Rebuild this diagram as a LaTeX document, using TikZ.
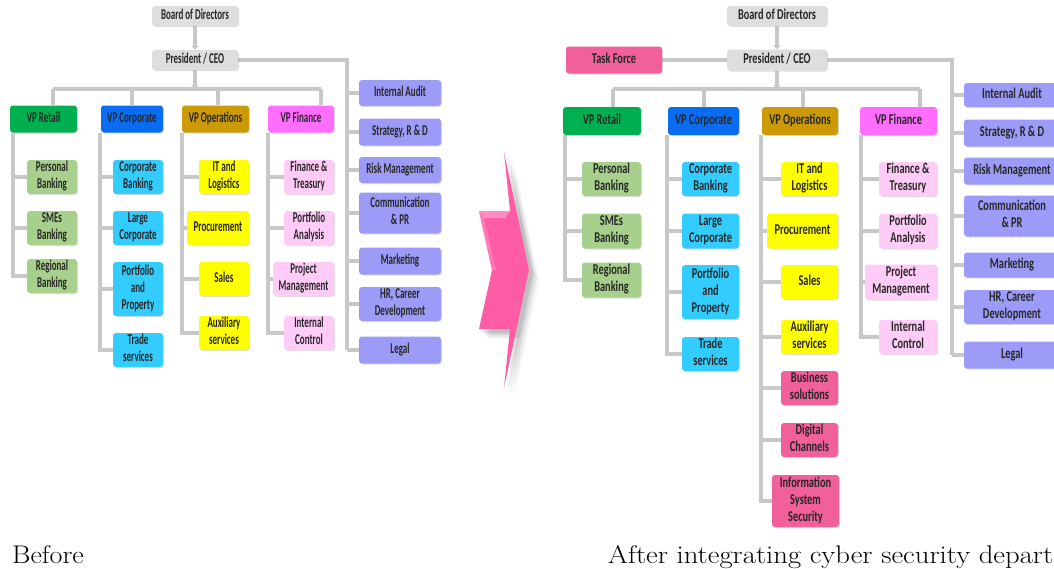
\documentclass[tikz,border=0pt]{standalone}
\usepackage{fontspec}
\usepackage{graphicx}
\newfontfamily\boxfont{Carlito}
\usetikzlibrary{arrows.meta,shadows,calc,backgrounds}
\definecolor{conncol}{HTML}{C8C8C8}
\definecolor{grayfill}{HTML}{DEDEDE}
\definecolor{vpret}{HTML}{00B050}
\definecolor{vpcorp}{HTML}{0A6CF0}
\definecolor{vpops}{HTML}{CC9A06}
\definecolor{vpfin}{HTML}{FF6EFF}
\definecolor{subret}{HTML}{A8D08D}
\definecolor{subcorp}{HTML}{33CCFF}
\definecolor{subops}{HTML}{FFFF00}
\definecolor{subfin}{HTML}{FFCCF7}
\definecolor{staffcol}{HTML}{9C9CF8}
\definecolor{newpink}{HTML}{F2609C}
\definecolor{arrowpink}{HTML}{FF5CA6}
\definecolor{arrowlight}{HTML}{FF8CC6}
\newcommand\btl[1]{\scalebox{0.6}[1]{\begin{tabular}{@{}c@{}}#1\end{tabular}}}
\newcommand\btr[1]{\scalebox{0.69}[1]{\begin{tabular}{@{}c@{}}#1\end{tabular}}}
\newcommand\capx[2]{\scalebox{#1}[1]{#2}}
\begin{document}
\begin{tikzpicture}[x=1pt,y=-1pt,
  bx/.style={rounded corners=3pt, inner sep=0pt, fill=#1, text=black!85,
    font=\boxfont\bfseries\fontsize{15}{17}\selectfont,
    drop shadow={shadow xshift=1pt,shadow yshift=-1pt,opacity=0.25}},
  conn/.style={draw=conncol, line width=3.5pt},
  connarrow/.style={conn, -{Triangle[length=4pt,width=7pt]}},
  wh/.style 2 args={minimum width=#1, minimum height=#2},
  captext/.style={anchor=base west, inner sep=0pt, font=\fontsize{25.5}{30}\selectfont}
]
\useasboundingbox (0,0) rectangle (1054,568);
\clip (0,0) rectangle (1054,568);

% ================= LEFT (Before) =================
\node[bx=grayfill, wh={86}{20}] (lbod) at (195,16) {\btl{Board of Directors}};
\node[bx=grayfill, wh={86}{20}] (lceo) at (195,60) {\btl{President / CEO}};
\node[bx=vpret,  wh={67}{27}] (lvpR) at (43.5,119) {\btl{VP Retail}};
\node[bx=vpcorp, wh={62}{27}] (lvpC) at (132,119) {\btl{VP Corporate}};
\node[bx=vpops,  wh={67}{27}] (lvpO) at (215.5,119) {\btl{VP Operations}};
\node[bx=vpfin,  wh={66}{27}] (lvpF) at (301,119) {\btl{VP Finance}};
% staff
\node[bx=staffcol, wh={82}{26}] (lia)  at (400,93)  {\btl{Internal Audit}};
\node[bx=staffcol, wh={82}{27}] (lstr) at (400,132) {\btl{Strategy, R \& D}};
\node[bx=staffcol, wh={82}{26}] (lrisk) at (400,170) {\btl{Risk Management}};
\node[bx=staffcol, wh={82}{41}] (lcom) at (400,213) {\btl{Communication\\\& PR}};
\node[bx=staffcol, wh={82}{27}] (lmkt) at (400,261) {\btl{Marketing}};
\node[bx=staffcol, wh={82}{34}] (lhr)  at (400,304) {\btl{HR, Career\\Development}};
\node[bx=staffcol, wh={82}{27}] (llegal) at (400,350) {\btl{Legal}};
% retail
\node[bx=subret, wh={50}{34}] (lpb)  at (52,177) {\btl{Personal\\Banking}};
\node[bx=subret, wh={50}{34}] (lsme) at (52,228) {\btl{SMEs\\Banking}};
\node[bx=subret, wh={50}{34}] (lreg) at (52,276) {\btl{Regional\\Banking}};
% corporate
\node[bx=subcorp, wh={50}{34}] (lcb)  at (138,177) {\btl{Corporate\\Banking}};
\node[bx=subcorp, wh={50}{34}] (llc)  at (138,228) {\btl{Large\\Corporate}};
\node[bx=subcorp, wh={50}{54}] (lpp)  at (138,289) {\btl{Portfolio\\and\\Property}};
\node[bx=subcorp, wh={50}{34}] (lts)  at (138,350) {\btl{Trade\\services}};
% operations
\node[bx=subops, wh={50}{34}] (lit)  at (224,177) {\btl{IT and\\Logistics}};
\node[bx=subops, wh={62}{34}] (lpro) at (218,228) {\btl{Procurement}};
\node[bx=subops, wh={50}{34}] (lsal) at (224,279) {\btl{Sales}};
\node[bx=subops, wh={50}{34}] (laux) at (224,333) {\btl{Auxiliary\\services}};
% finance
\node[bx=subfin, wh={50}{34}] (lft)  at (309,177) {\btl{Finance \&\\Treasury}};
\node[bx=subfin, wh={50}{34}] (lpa)  at (309,228) {\btl{Portfolio\\Analysis}};
\node[bx=subfin, wh={61}{34}] (lpm)  at (303.5,279) {\btl{Project\\Management}};
\node[bx=subfin, wh={50}{34}] (lic)  at (309,333) {\btl{Internal\\Control}};

\coordinate (lbus) at (195,89);
\coordinate (lb1) at (53,89);
\coordinate (lb2) at (132,89);
\coordinate (lb3) at (218,89);
\coordinate (lb4) at (321,89);
\coordinate (ls) at (347,60);
\coordinate (lc1) at (13,132.5);
\coordinate (lc2) at (100,132.5);
\coordinate (lc3) at (182,132.5);
\coordinate (lc4) at (268,132.5);

\begin{scope}[on background layer]
\draw[connarrow] (lbod) -- (lceo);
\draw[connarrow] (lceo) -- (lbus);
\draw[conn] (lb1) -- (lb4);
\draw[conn] (lb1) -- (lb1 |- lvpR.north);
\draw[conn] (lb2) -- (lb2 |- lvpC.north);
\draw[conn] (lb3) -- (lb3 |- lvpO.north);
\draw[conn] (lb4) -- (lb4 |- lvpF.north);
\draw[conn] (lceo.east) -- (ls) -- (ls |- llegal.west);
\foreach \n in {lia,lstr,lrisk,lcom,lmkt,lhr,llegal} \draw[conn] (ls |- \n.west) -- (\n.west);
\foreach \n in {lpb,lsme,lreg} \draw[conn] (lc1) |- (\n.west);
\foreach \n in {lcb,llc,lpp,lts} \draw[conn] (lc2) |- (\n.west);
\foreach \n in {lit,lpro,lsal,laux} \draw[conn] (lc3) |- (\n.west);
\foreach \n in {lft,lpa,lpm,lic} \draw[conn] (lc4) |- (\n.west);
\end{scope}

% ================= ARROW =================
\begin{scope}
\foreach \d/\o in {10/0.04,8/0.06,6/0.08,4/0.1}
  \fill[black,opacity=\o] (504+\d,152+\d) -- (529+\d,270+\d) -- (504+\d,388+\d) -- (510+\d,329+\d) -- (479+\d,329+\d) -- (492+\d,270+\d) -- (479+\d,211+\d) -- (510+\d,211+\d) -- cycle;
\fill[arrowpink] (504,152) -- (529,270) -- (504,388) -- (510,329) -- (479,329) -- (492,270) -- (479,211) -- (510,211) -- cycle;
\fill[arrowlight] (479,211) -- (510,211) -- (505,218) -- (484,218) -- cycle;
\fill[arrowlight,opacity=0.6] (479,211) -- (484,218) -- (496,270) -- (492,270) -- cycle;
\end{scope}

% ================= RIGHT (After) =================
\node[bx=grayfill, wh={100}{20}] (rbod) at (777,16) {\btr{Board of Directors}};
\node[bx=grayfill, wh={100}{21}] (rceo) at (777,60) {\btr{President / CEO}};
\node[bx=newpink,  wh={96}{27}] (rtf) at (614,60) {\btr{Task Force}};
\node[bx=vpret,  wh={78}{28}] (rvpR) at (602,121) {\btr{VP Retail}};
\node[bx=vpcorp, wh={71}{28}] (rvpC) at (703.5,121) {\btr{VP Corporate}};
\node[bx=vpops,  wh={76}{28}] (rvpO) at (800,121) {\btr{VP Operations}};
\node[bx=vpfin,  wh={77}{28}] (rvpF) at (898.5,121) {\btr{VP Finance}};
% staff
\node[bx=staffcol, wh={96}{24}] (ria)  at (1012,95)  {\btr{Internal Audit}};
\node[bx=staffcol, wh={96}{27}] (rstr) at (1012,133) {\btr{Strategy, R \& D}};
\node[bx=staffcol, wh={96}{27}] (rrisk) at (1012,171) {\btr{Risk Management}};
\node[bx=staffcol, wh={96}{41}] (rcom) at (1012,216) {\btr{Communication\\\& PR}};
\node[bx=staffcol, wh={96}{25}] (rmkt) at (1012,265) {\btr{Marketing}};
\node[bx=staffcol, wh={96}{34}] (rhr)  at (1012,307) {\btr{HR, Career\\Development}};
\node[bx=staffcol, wh={96}{27}] (rlegal) at (1012,355) {\btr{Legal}};
% retail
\node[bx=subret, wh={59}{34}] (rpb)  at (611.5,179) {\btr{Personal\\Banking}};
\node[bx=subret, wh={59}{35}] (rsme) at (611.5,231) {\btr{SMEs\\Banking}};
\node[bx=subret, wh={59}{35}] (rreg) at (611.5,280) {\btr{Regional\\Banking}};
% corporate
\node[bx=subcorp, wh={57}{34}] (rcb)  at (710.5,179) {\btr{Corporate\\Banking}};
\node[bx=subcorp, wh={57}{35}] (rlc)  at (710.5,231) {\btr{Large\\Corporate}};
\node[bx=subcorp, wh={57}{54}] (rpp)  at (710.5,292) {\btr{Portfolio\\and\\Property}};
\node[bx=subcorp, wh={57}{34}] (rts)  at (710.5,354) {\btr{Trade\\services}};
% operations
\node[bx=subops, wh={57}{34}] (rit)  at (809.5,179) {\btr{IT and\\Logistics}};
\node[bx=subops, wh={71}{35}] (rpro) at (802.5,231) {\btr{Procurement}};
\node[bx=subops, wh={57}{34}] (rsal) at (809.5,282) {\btr{Sales}};
\node[bx=subops, wh={57}{34}] (raux) at (809.5,337) {\btr{Auxiliary\\services}};
\node[bx=newpink, wh={57}{34}] (rbs) at (809.5,388) {\btr{Business\\solutions}};
\node[bx=newpink, wh={57}{34}] (rdc) at (809.5,440) {\btr{Digital\\Channels}};
\node[bx=newpink, wh={67}{52}] (riss) at (805.5,501) {\btr{Information\\System\\Security}};
% finance
\node[bx=subfin, wh={58}{34}] (rft)  at (908,179) {\btr{Finance \&\\Treasury}};
\node[bx=subfin, wh={58}{35}] (rpa)  at (908,231) {\btr{Portfolio\\Analysis}};
\node[bx=subfin, wh={72}{35}] (rpm)  at (901,282) {\btr{Project\\Management}};
\node[bx=subfin, wh={58}{34}] (ric)  at (908,337) {\btr{Internal\\Control}};

\coordinate (rbus) at (777,89);
\coordinate (rb1) at (613,89);
\coordinate (rb2) at (704,89);
\coordinate (rb3) at (803,89);
\coordinate (rb4) at (920,89);
\coordinate (rs) at (952,60);
\coordinate (rc1) at (565,135);
\coordinate (rc2) at (667,135);
\coordinate (rc3) at (761,135);
\coordinate (rc4) at (861,135);

\begin{scope}[on background layer]
\draw[connarrow] (rbod) -- (rceo);
\draw[connarrow] (rceo) -- (rbus);
\draw[conn] (rtf) -- (rceo);
\draw[conn] (rb1) -- (rb4);
\draw[conn] (rb1) -- (rb1 |- rvpR.north);
\draw[conn] (rb2) -- (rb2 |- rvpC.north);
\draw[conn] (rb3) -- (rb3 |- rvpO.north);
\draw[conn] (rb4) -- (rb4 |- rvpF.north);
\draw[conn] (rceo.east) -- (rs) -- (rs |- rlegal.west);
\foreach \n in {ria,rstr,rrisk,rcom,rmkt,rhr,rlegal} \draw[conn] (rs |- \n.west) -- (\n.west);
\foreach \n in {rpb,rsme,rreg} \draw[conn] (rc1) |- (\n.west);
\foreach \n in {rcb,rlc,rpp,rts} \draw[conn] (rc2) |- (\n.west);
\foreach \n in {rit,rpro,rsal,raux,rbs,rdc,riss} \draw[conn] (rc3) |- (\n.west);
\foreach \n in {rft,rpa,rpm,ric} \draw[conn] (rc4) |- (\n.west);
\end{scope}

% ================= CAPTIONS =================
\node[captext] (cap1) at (12,563) {\capx{1.1}{Before}};
\node[captext] (cap2) at (608,563) {\capx{1.125}{After integrating cyber security depart}};
\end{tikzpicture}
\end{document}
